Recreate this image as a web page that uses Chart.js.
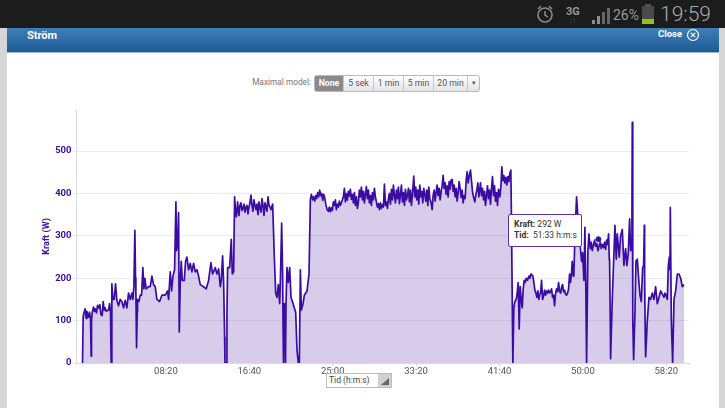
<!DOCTYPE html>
<html>
<head>
<meta charset="utf-8">
<title>Ström</title>
<script src="https://cdn.jsdelivr.net/npm/chart.js@4"></script>
<style>
html, body { margin: 0; padding: 0; width: 725px; height: 408px; overflow: hidden; background: #fff; font-family: Roboto, sans-serif; }
.abs { position: absolute; white-space: nowrap; }
#statusBar { left: 0; top: 0; width: 725px; height: 28px; background: #1c1c1c; }
#sideL { left: 0; top: 28px; width: 7px; height: 380px; background: #d6d6d6; }
#sideR { left: 719px; top: 28px; width: 6px; height: 380px; background: #d6d6d6; }
#header { left: 7px; top: 28px; width: 712px; height: 24px; background: linear-gradient(#3f7fb8, #1d5a96); border-bottom: 1px solid #9fb8cf; }
#buttons { left: 314px; top: 75px; height: 15px; display: flex; border: 1px solid #b9b9b9; border-radius: 3px; font-size: 8.7px; line-height: 15px; color: #555; background: linear-gradient(#fff, #e4e4e8); }
#buttons div { text-align: center; border-right: 1px solid #c8c8c8; box-sizing: border-box; }
#buttons .on { background: #8a8a8a; color: #fff; font-weight: bold; }
#chartBox { left: 0; top: 0; }
#tipBox { left: 508px; top: 214px; width: 72px; height: 31px; background: #fff; border: 1px solid #5a2fb0; border-radius: 2px; font-size: 8.5px; line-height: 11px; color: #333; padding: 0; }
#tidBox { left: 326px; top: 373px; width: 64px; height: 13px; border: 1px solid #bdbdbd; background: #fff; font-size: 8.5px; line-height: 13px; color: #444; }
</style>
</head>
<body>
<div class="abs" id="statusBar"></div>
<svg class="abs" style="left:535px;top:3px" width="20" height="22" viewBox="0 0 20 22">
  <circle cx="10" cy="12" r="7" fill="none" stroke="#8d8d8d" stroke-width="1.6"/>
  <path d="M10 8v4l3 2M3 6l3-3M17 6l-3-3" fill="none" stroke="#8d8d8d" stroke-width="1.5"/>
</svg>
<div class="abs" style="left:566px;top:5px;font-size:11px;font-weight:bold;color:#999">3G</div>
<div class="abs" style="left:569px;top:17px;font-size:7px;color:#666">↓↑</div>
<svg class="abs" style="left:591px;top:7px" width="20" height="18">
  <path d="M1 17h3v-4h-3zM6 17h3v-8h-3z" fill="#8d8d8d"/><path d="M11 17h3v-12h-3zM16 17h3v-16h-3z" fill="#666"/>
</svg>
<div class="abs" style="left:613px;top:7px;font-size:14px;color:#999">26%</div>
<svg class="abs" style="left:641px;top:4px" width="15" height="21">
  <rect x="4" y="0" width="6" height="2" fill="#555"/><rect x="1" y="2" width="12" height="13" fill="#4a4a4a"/><rect x="1" y="15" width="12" height="5" fill="#8fc31f"/>
</svg>
<div class="abs" style="left:660px;top:2px;font-size:21px;font-weight:300;color:#aaa">19:59</div>

<div class="abs" id="sideL"></div>
<div class="abs" id="sideR"></div>
<div class="abs" id="header"></div>
<div class="abs" style="left:27px;top:29px;font-size:11px;font-weight:bold;color:#fff">Ström</div>
<div class="abs" style="left:658px;top:28px;font-size:9.5px;font-weight:bold;color:#fff">Close</div>
<svg class="abs" style="left:686px;top:28px" width="14" height="14">
  <circle cx="7" cy="7" r="5.5" fill="none" stroke="#fff" stroke-width="1.2"/><path d="M4.8 4.8l4.4 4.4M9.2 4.8l-4.4 4.4" stroke="#fff" stroke-width="1.2"/>
</svg>

<div class="abs" style="right:414px;top:77px;font-size:8.3px;color:#777">Maximal model:</div>
<div class="abs" id="buttons">
  <div class="on" style="width:29px">None</div>
  <div style="width:30px">5 sek</div>
  <div style="width:30px">1 min</div>
  <div style="width:30px">5 min</div>
  <div style="width:34px">20 min</div>
  <div style="width:11px;border-right:0;font-size:7px">▾</div>
</div>

<div class="abs" id="chartBox"><canvas id="powerChart" width="725" height="408"></canvas></div>

<div class="abs" id="tipBox">
  <div style="margin:4px 0 0 5px"><b>Kraft:</b> 292 W</div>
  <div style="margin:0 0 0 5px"><b>Tid:</b>&nbsp; 51:33 h:m:s</div>
</div>
<div class="abs" id="tidBox"><span style="margin-left:2px">Tid (h:m:s)</span></div>
<div class="abs" style="left:378px;top:374px;width:13px;height:13px;background:#d0d0d0"></div>
<svg class="abs" style="left:380px;top:377px" width="10" height="9"><path d="M1 8l8-7v7z" fill="#666"/></svg>

<script>
// data, seconds and watts
var warmupTime = [0,4,6,16,22,26,36,42,48,52,54,58,66,72,76,84,90,96,104,110,118,124,130,136,142,156,162,168,170,172,176,182,190,198,206,216,226,236,246,256,266,276,286,296,302,308,314,318,320,324,328,330,338,346,354,362,368,374,382,396,406,416,426,436,446,462,476,496,510,516,526,534,542,552,560,564,570,576,580,586,592,598,610,618,626,636,646,656,666,676,686,696,706,726,742,756,770,780,796,806,816,826,832,840,846,852,854,862,866,870,882,892,898,906];
var warmupPower = [0,110,115,128,105,122,108,120,105,16,100,118,132,122,128,118,136,130,138,115,112,145,125,130,122,125,140,120,50,0,187,150,150,187,148,135,150,145,130,148,130,165,150,165,150,180,313,200,170,36,120,150,145,160,160,225,175,200,175,180,180,205,185,180,150,145,160,160,170,150,215,170,205,220,380,265,280,355,73,190,240,195,195,240,250,220,235,215,235,215,220,205,185,180,175,195,237,210,225,210,222,180,195,253,190,60,0,0,120,225,225,292,210,215];

var firstBlockTime = [912,916,922,930,934,938,944,950,956,962,968,974,980,986,992,998,1004,1010,1016,1022,1028,1034,1040,1046,1052,1058,1064,1070,1076,1082,1088,1094,1100,1106,1112,1118,1124,1130,1140];
var firstBlockPower = [392,365,345,380,358,348,372,378,360,365,375,356,368,372,352,368,378,396,372,358,385,372,362,375,350,380,365,356,388,372,348,378,368,358,392,372,368,362,375];

var dropTime = [1150,1158,1166,1174,1182,1186,1194,1200,1202,1204,1206,1210,1214,1216,1218,1220,1226,1234,1242,1250,1266,1278,1286,1294,1300,1306,1312,1322,1330,1346,1358];
var dropPower = [250,165,155,185,140,190,330,205,100,0,0,140,100,0,0,140,225,190,225,155,135,120,30,0,0,220,125,140,160,170,210];

var mainBlockTime = [1366,1372,1380,1386,1392,1398,1404,1410,1416,1422,1428,1434,1440,1446,1452,1458,1466,1474,1480,1486,1492,1498,1504,1510,1516,1522,1528,1534,1540,1546,1552,1558,1564,1570,1576,1582,1588,1594,1600,1606,1612,1618,1624,1630,1636,1642,1648,1654,1660,1666,1672,1678,1684,1690,1696,1702,1708,1714,1720,1726,1732,1738,1744,1750,1756,1762,1768,1774,1780,1786,1792,1798,1804,1810,1816,1822,1828,1834,1840,1846,1852,1858,1864,1870,1876,1882,1888,1894,1900,1906,1912,1918,1924,1930,1936,1942,1948,1954,1960,1966,1972,1978,1986,1992,1998,2004,2010,2016,2022,2028,2034,2040,2046,2052,2058,2064,2070,2076,2082,2090,2096,2102,2108,2114,2120,2126,2132,2138,2144,2150,2156,2162,2168,2174,2180,2186,2192,2198,2204,2210,2216,2222,2228,2234,2240,2246,2252,2258,2264,2270,2276,2282,2288,2294,2300,2306,2312,2318,2326,2332,2338,2344,2352,2358,2364,2370,2376,2386,2392,2398,2404,2410,2416,2422,2428,2434,2440,2446,2452,2458,2464,2470,2476,2482,2488,2494,2502,2508,2514,2520,2526,2532,2538,2544,2550,2556];
var mainBlockPower = [385,398,385,392,382,395,388,402,392,408,395,400,384,398,390,376,362,358,368,357,366,360,380,372,385,362,375,368,382,372,378,385,392,412,380,400,384,405,394,410,386,398,378,402,372,392,365,380,408,392,415,385,405,378,398,416,388,408,378,395,372,402,385,412,392,380,368,376,362,378,365,374,368,422,372,380,365,388,400,375,410,385,420,395,378,408,388,415,376,398,420,380,402,372,410,385,395,412,380,408,372,398,441,392,415,385,408,375,420,392,405,378,412,398,382,408,372,415,388,378,362,395,408,382,402,420,395,412,385,405,418,443,412,425,398,418,392,428,410,432,433,405,420,392,412,382,402,428,412,390,408,378,395,388,432,451,425,440,455,430,405,392,380,398,408,425,392,425,395,412,385,405,372,395,418,388,408,375,412,440,395,418,382,402,372,410,392,415,463,430,442,425,438,420,440,428,448,455];

var recoveryTime = [2562,2568,2572,2580,2586,2592,2600,2606,2612,2618,2624,2630,2636,2642,2648,2654,2660,2668,2676,2682,2688,2694,2700,2706,2712,2718,2724,2730,2736,2740,2746,2752,2758,2764,2770,2776,2782,2788,2794,2800,2806,2812,2818,2824,2830,2836,2842,2848,2854,2860,2866,2872,2878,2884,2890,2896,2902,2908,2914,2920,2926,2932,2936,2942,2946,2952,2962,2976,2992,2998,3006,3012,3018,3022,3030,3036,3044,3050,3056,3064,3070,3076,3084,3090,3098,3104,3110,3116,3124,3130,3136,3142,3148,3154,3158,3160,3164,3166,3176,3192,3200,3206,3218,3226,3236,3246,3256,3264,3272,3280,3286,3290,3294,3296,3298,3300,3304,3312,3318,3326,3334,3342,3350,3358,3364,3368,3370,3374,3376,3386,3396,3406,3416,3426,3436,3446,3466,3486,3492,3498,3506,3512,3518,3522,3524,3530,3538,3546,3556,3566,3576,3586,3596,3606];
var recoveryPower = [330,0,130,145,150,165,190,80,180,150,130,175,195,190,200,195,205,200,210,208,205,190,172,165,155,170,150,160,165,195,150,158,172,160,170,165,172,165,168,175,155,160,135,165,175,168,190,170,165,178,185,168,172,162,160,165,175,210,190,215,240,205,210,300,392,310,240,260,195,320,160,0,265,305,270,285,265,280,290,275,282,265,278,285,270,280,272,285,268,290,280,305,245,240,100,10,150,325,245,305,250,300,315,230,270,230,260,340,265,270,360,568,300,100,8,120,240,245,200,160,145,225,230,325,200,60,15,100,155,150,165,150,180,140,170,155,165,160,150,230,250,220,367,100,0,150,170,210,210,200,180,185,185,170];

var markerTime = [3093];
var markerPower = [292];

var xTickValues = [0,500,1000,1500,2000,2500,3000,3500];
var xTickLabels = ["","08:20","16:40","25:00","33:20","41:40","50:00","58:20"];
var yTickValues = [0,100,200,300,400,500];

var lineColor = "#3a0ca3";
var fillColor = "rgba(80,40,165,0.23)";

function makePoints(times, values) {
    return times.map(function(t, i) { return {x: t, y: values[i]}; });
}

var allTimes = warmupTime.concat(firstBlockTime, dropTime, mainBlockTime, recoveryTime);
var allPower = warmupPower.concat(firstBlockPower, dropPower, mainBlockPower, recoveryPower);

Chart.defaults.font.family = "Roboto, sans-serif";

new Chart(document.getElementById("powerChart"), {
    type: "line",
    data: {
        datasets: [{
            data: makePoints(markerTime, markerPower),
            borderColor: lineColor,
            backgroundColor: lineColor,
            pointRadius: 2.5,
            showLine: false
        }, {
            data: makePoints(allTimes, allPower),
            borderColor: lineColor,
            backgroundColor: fillColor,
            borderWidth: 1.7,
            borderJoinStyle: "round",
            pointRadius: 0,
            tension: 0,
            fill: "origin"
        }]
    },
    options: {
        responsive: false,
        animation: false,
        layout: { padding: { left: 41, right: 36, top: 110, bottom: 25 } },
        plugins: { legend: { display: false }, tooltip: { enabled: false } },
        scales: {
            x: {
                type: "linear",
                min: -36,
                max: 3636,
                afterBuildTicks: function(axis) {
                    axis.ticks = xTickValues.map(function(v) { return {value: v}; });
                },
                afterFit: function(axis) { axis.height = 20; },
                grid: { drawOnChartArea: false, color: "#d5dbe8", tickLength: 3 },
                border: { color: "#d5dbe8" },
                ticks: {
                    autoSkip: false,
                    maxRotation: 0,
                    padding: 0,
                    color: "#555",
                    font: { size: 9.5 },
                    callback: function(value) {
                        return xTickLabels[xTickValues.indexOf(value)];
                    }
                }
            },
            y: {
                min: 0,
                max: 597,
                afterBuildTicks: function(axis) {
                    axis.ticks = yTickValues.map(function(v) { return {value: v}; });
                },
                afterFit: function(axis) { axis.width = 35.5; },
                grid: { color: "#ecebf3", tickLength: 4 },
                border: { color: "#d5dbe8" },
                title: { display: true, text: "Kraft (W)", color: lineColor, font: { size: 9, weight: "bold" }, padding: 0 },
                ticks: { color: lineColor, padding: 1, font: { size: 9.5, weight: "bold" } }
            }
        }
    }
});
</script>
</body>
</html>
